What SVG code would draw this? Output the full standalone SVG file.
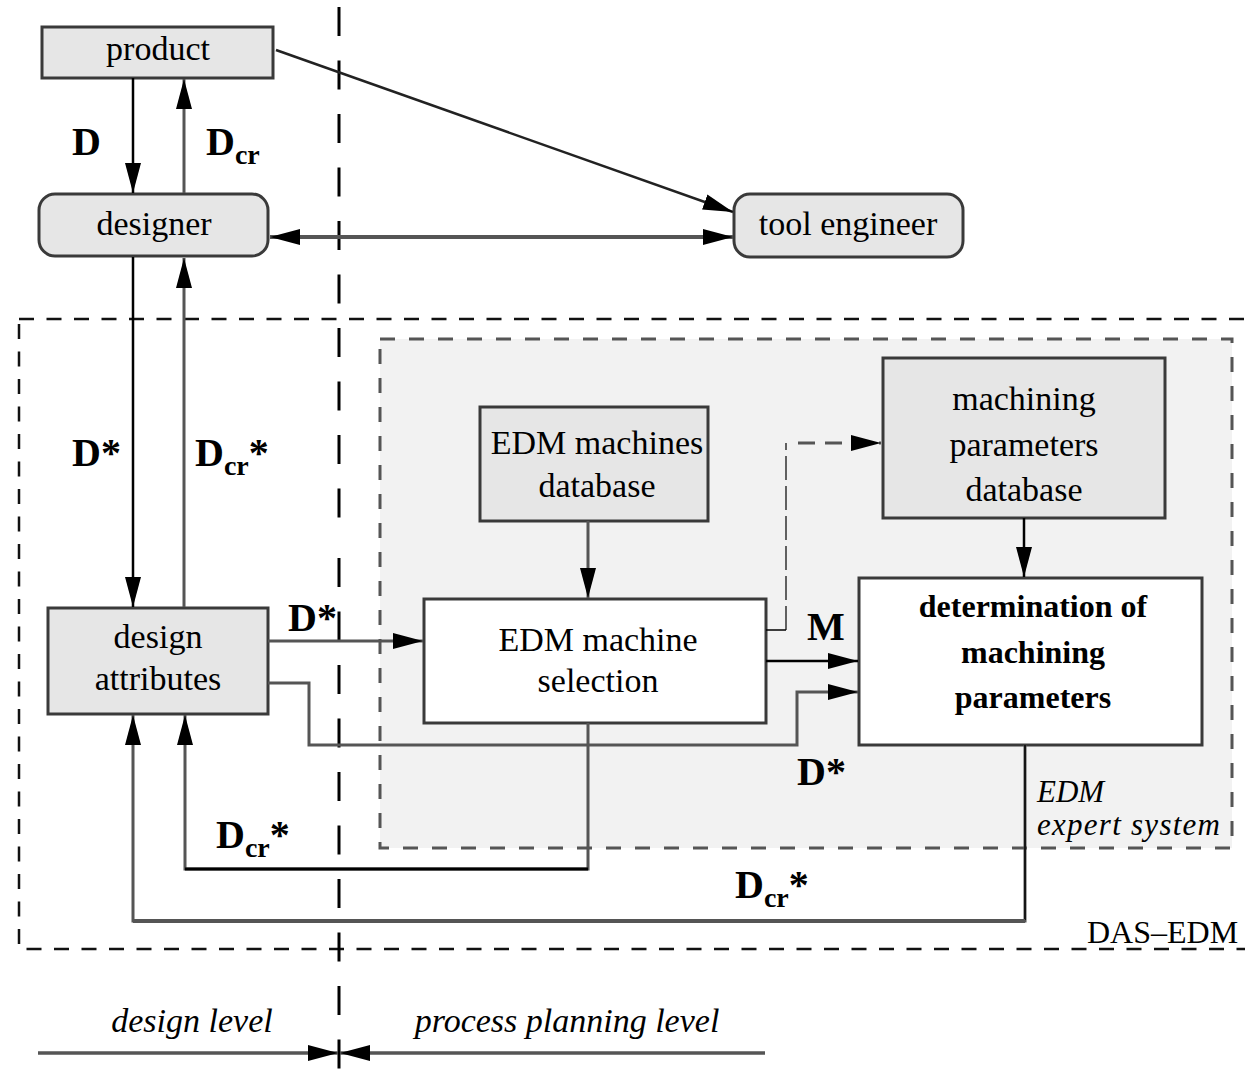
<svg xmlns="http://www.w3.org/2000/svg" width="1245" height="1081" viewBox="0 0 1245 1081">
  <defs>
    <!-- long, narrow filled arrowhead used by every connector -->
    <marker id="arrow" markerUnits="userSpaceOnUse" markerWidth="32" markerHeight="18" refX="30" refY="8" orient="auto">
      <path d="M0,0 L30,8 L0,16 Z" fill="#000"/>
    </marker>
    <marker id="arrowStart" markerUnits="userSpaceOnUse" markerWidth="32" markerHeight="18" refX="30" refY="8" orient="auto-start-reverse">
      <path d="M0,0 L30,8 L0,16 Z" fill="#000"/>
    </marker>
    <style>
      .box { fill: #e6e6e6; stroke: #3a3a3a; stroke-width: 3; }
      .proc { fill: #ffffff; stroke: #3a3a3a; stroke-width: 3; }
      .txt { font-family: "Liberation Serif", "Times New Roman", serif; font-size: 34px; fill: #000; text-anchor: middle; }
      .bold { font-weight: bold; font-size: 32px; }
      .it { font-family: "Liberation Serif", "Times New Roman", serif; font-size: 34px; font-style: italic; fill: #000; }
      .lbl { font-family: "Liberation Serif", "Times New Roman", serif; font-size: 40px; font-weight: bold; fill: #000; }
      .sub { font-size: 28px; }
      .gray { fill: none; stroke: #555; stroke-width: 3; }
      .blk { fill: none; stroke: #000; stroke-width: 2.5; }
      .thin { fill: none; stroke: #000; stroke-width: 1.5; }
    </style>
  </defs>

  <rect width="1245" height="1081" fill="#fff"/>

  <!-- expert system region -->
  <g id="edm-expert-system">
    <rect x="380" y="339" width="852" height="509" fill="#f2f2f2" stroke="#555" stroke-width="3" stroke-dasharray="15 14"/>
    <text class="it" x="1037" y="802" style="font-size:31px">EDM</text>
    <text class="it" x="1037" y="835" style="font-size:31px" textLength="183">expert system</text>
  </g>

  <!-- DAS-EDM system boundary -->
  <g id="das-edm">
    <rect x="19" y="319" width="1250" height="630" fill="none" stroke="#111" stroke-width="2.5" stroke-dasharray="15 12.5"/>
    <text class="txt" x="1087" y="943" style="text-anchor:start;font-size:32px">DAS–EDM</text>
  </g>

  <!-- level separator -->
  <g id="level-divider" stroke="#000" stroke-width="3" stroke-dasharray="29 24.5">
    <line x1="339" y1="7" x2="339" y2="520"/>
    <line x1="339" y1="558" x2="339" y2="1081"/>
  </g>

  <!-- nodes -->
  <g id="product">
    <rect class="box" x="42" y="27" width="231" height="51"/>
    <text class="txt" x="158" y="60">product</text>
  </g>
  <g id="designer">
    <rect class="box" x="39" y="194" width="229" height="62" rx="16"/>
    <text class="txt" x="154" y="235">designer</text>
  </g>
  <g id="tool-engineer">
    <rect class="box" x="734" y="194" width="229" height="63" rx="16"/>
    <text class="txt" x="848" y="235">tool engineer</text>
  </g>
  <g id="design-attributes">
    <rect class="box" x="48" y="608" width="220" height="106"/>
    <text class="txt" x="158" y="648">design</text>
    <text class="txt" x="158" y="690">attributes</text>
  </g>
  <g id="edm-machines-db">
    <rect class="box" x="480" y="407" width="228" height="114"/>
    <text class="txt" x="597" y="454">EDM machines</text>
    <text class="txt" x="597" y="497">database</text>
  </g>
  <g id="edm-machine-selection">
    <rect class="proc" x="424" y="599" width="342" height="124"/>
    <text class="txt" x="598" y="651">EDM machine</text>
    <text class="txt" x="598" y="692">selection</text>
  </g>
  <g id="machining-params-db">
    <rect class="box" x="883" y="358" width="282" height="160"/>
    <text class="txt" x="1024" y="410">machining</text>
    <text class="txt" x="1024" y="456">parameters</text>
    <text class="txt" x="1024" y="501">database</text>
  </g>
  <g id="determination">
    <rect class="proc" x="859" y="578" width="343" height="167"/>
    <text class="txt bold" x="1033" y="617">determination of</text>
    <text class="txt bold" x="1033" y="663">machining</text>
    <text class="txt bold" x="1033" y="708">parameters</text>
  </g>

  <!-- connectors -->
  <g id="connectors">
    <line class="blk" x1="133" y1="78" x2="133" y2="193" marker-end="url(#arrow)"/>
    <line class="gray" x1="184" y1="193" x2="184" y2="79" marker-end="url(#arrow)"/>
    <line x1="276" y1="50" x2="733" y2="212" stroke="#222" stroke-width="2.5" marker-end="url(#arrow)"/>
    <line x1="270" y1="237" x2="733" y2="237" stroke="#555" stroke-width="4" marker-start="url(#arrowStart)" marker-end="url(#arrow)"/>

    <line class="blk" x1="133" y1="257" x2="133" y2="607" marker-end="url(#arrow)"/>
    <line class="gray" x1="184" y1="607" x2="184" y2="258" marker-end="url(#arrow)"/>

    <line class="gray" x1="268" y1="641" x2="423" y2="641" marker-end="url(#arrow)"/>
    <path class="gray" d="M268,683 H309 V745 H797 V692 H858" marker-end="url(#arrow)"/>

    <line class="gray" x1="588" y1="521" x2="588" y2="598" marker-end="url(#arrow)"/>

    <!-- optional lookup of machining parameters (dashed) -->
    <path class="thin" d="M766,630 H786"/>
    <line x1="786" y1="630" x2="786" y2="443" stroke="#000" stroke-width="1.2" stroke-dasharray="24 6"/>
    <line x1="798" y1="443" x2="881" y2="443" stroke="#555" stroke-width="3" stroke-dasharray="17 10" marker-end="url(#arrow)"/>

    <line class="blk" x1="766" y1="661" x2="858" y2="661" marker-end="url(#arrow)"/>
    <line class="blk" x1="1024" y1="518" x2="1024" y2="577" marker-end="url(#arrow)"/>

    <path class="gray" d="M588,723 V869 H185 V715" marker-end="url(#arrow)"/>
    <line x1="185" y1="869" x2="588" y2="869" stroke="#000" stroke-width="3"/>

    <path class="gray" d="M1025,745 V921 H133 V715" marker-end="url(#arrow)"/>
    <line class="thin" x1="1025" y1="745" x2="1025" y2="920"/>
    <line x1="133" y1="921" x2="1025" y2="921" stroke="#555" stroke-width="4"/>

    <line x1="38" y1="1053" x2="338" y2="1053" stroke="#555" stroke-width="3.5" marker-end="url(#arrow)"/>
    <line x1="765" y1="1053" x2="340" y2="1053" stroke="#555" stroke-width="3.5" marker-end="url(#arrow)"/>
  </g>

  <!-- flow labels -->
  <g id="labels">
    <text class="lbl" x="72" y="155">D</text>
    <text class="lbl" x="206" y="155">D<tspan class="sub" dy="9">cr</tspan></text>
    <text class="lbl" x="72" y="466">D*</text>
    <text class="lbl" x="195" y="466">D<tspan class="sub" dy="9">cr</tspan><tspan dy="-9">*</tspan></text>
    <text class="lbl" x="288" y="631">D*</text>
    <text class="lbl" x="807" y="640">M</text>
    <text class="lbl" x="797" y="785">D*</text>
    <text class="lbl" x="216" y="848">D<tspan class="sub" dy="9">cr</tspan><tspan dy="-9">*</tspan></text>
    <text class="lbl" x="735" y="898">D<tspan class="sub" dy="9">cr</tspan><tspan dy="-9">*</tspan></text>
  </g>

  <!-- planning levels -->
  <g id="levels">
    <text class="it" x="192" y="1032" style="text-anchor:middle">design level</text>
    <text class="it" x="567" y="1032" style="text-anchor:middle">process planning level</text>
  </g>
</svg>
